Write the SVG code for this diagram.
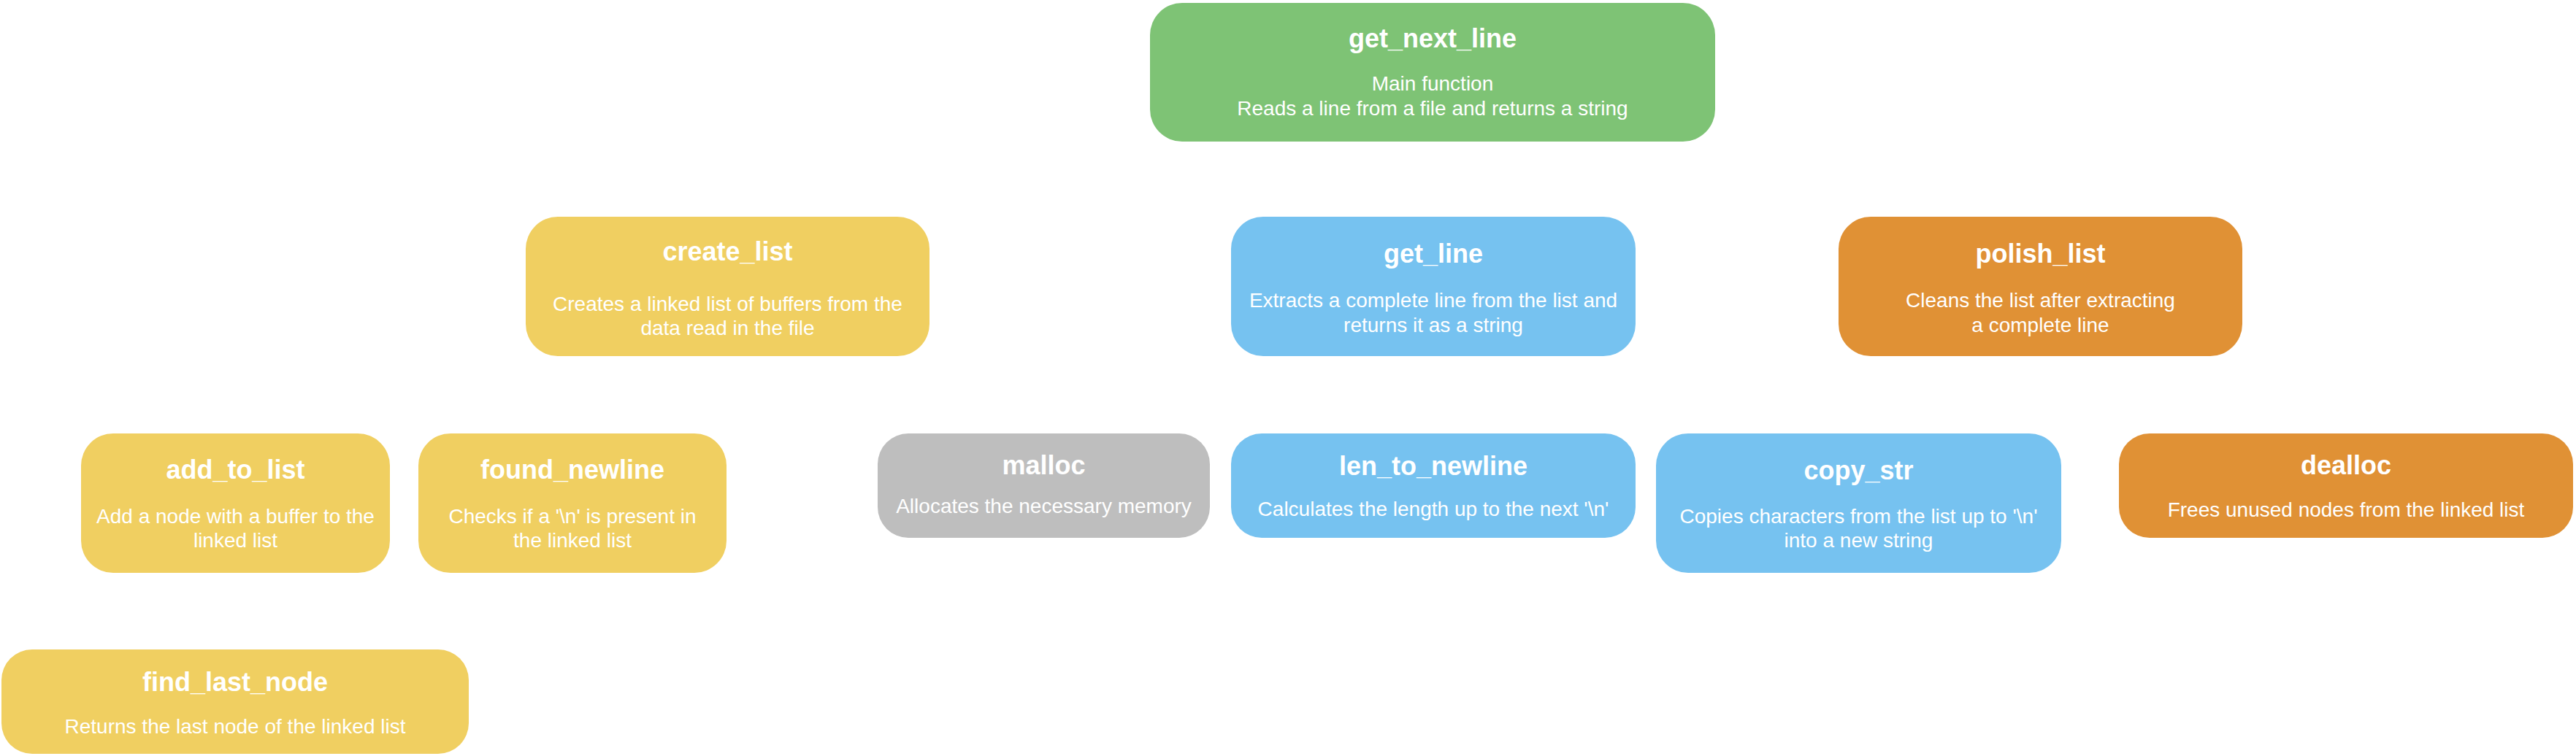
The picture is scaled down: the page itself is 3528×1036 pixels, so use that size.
<svg xmlns="http://www.w3.org/2000/svg" width="3528" height="1036" viewBox="0 0 3528 1036">
<style>
.box{stroke:none}
.green{fill:#7EC375}
.yellow{fill:#F0CF61}
.blue{fill:#76C2F0}
.orange{fill:#E09135}
.gray{fill:#BEBEBE}
text{font-family:"Liberation Sans",Arial,Helvetica,sans-serif;fill:#FFFFFF;text-anchor:middle}
.t{font-size:36px;font-weight:bold}
.d{font-size:28px}
</style>
<rect width="3528" height="1036" fill="#FFFFFF"/>
<g id="connectors"></g>
<g id="get_next_line">
<rect class="box green" x="1575" y="4" width="774" height="190" rx="44"/>
<text class="t" x="1962" y="65">get_next_line</text>
<text class="d" x="1962" y="124">Main function</text>
<text class="d" x="1962" y="158">Reads a line from a file and returns a string</text>
</g>
<g id="create_list">
<rect class="box yellow" x="720" y="297" width="553" height="191" rx="44"/>
<text class="t" x="996.5" y="357">create_list</text>
<text class="d" x="996.5" y="426">Creates a linked list of buffers from the</text>
<text class="d" x="996.5" y="459">data read in the file</text>
</g>
<g id="get_line">
<rect class="box blue" x="1686" y="297" width="554" height="191" rx="44"/>
<text class="t" x="1963" y="360">get_line</text>
<text class="d" x="1963" y="421">Extracts a complete line from the list and</text>
<text class="d" x="1963" y="455">returns it as a string</text>
</g>
<g id="polish_list">
<rect class="box orange" x="2518" y="297" width="553" height="191" rx="44"/>
<text class="t" x="2794.5" y="360">polish_list</text>
<text class="d" x="2794.5" y="421">Cleans the list after extracting</text>
<text class="d" x="2794.5" y="455">a complete line</text>
</g>
<g id="add_to_list">
<rect class="box yellow" x="111" y="594" width="423" height="191" rx="44"/>
<text class="t" x="322.5" y="656">add_to_list</text>
<text class="d" x="322.5" y="717">Add a node with a buffer to the</text>
<text class="d" x="322.5" y="750">linked list</text>
</g>
<g id="found_newline">
<rect class="box yellow" x="573" y="594" width="422" height="191" rx="44"/>
<text class="t" x="784" y="656">found_newline</text>
<text class="d" x="784" y="717">Checks if a '\n' is present in</text>
<text class="d" x="784" y="750">the linked list</text>
</g>
<g id="malloc">
<rect class="box gray" x="1202" y="594" width="455" height="143" rx="42"/>
<text class="t" x="1429.5" y="650">malloc</text>
<text class="d" x="1429.5" y="703">Allocates the necessary memory</text>
</g>
<g id="len_to_newline">
<rect class="box blue" x="1686" y="594" width="554" height="143" rx="42"/>
<text class="t" x="1963" y="651">len_to_newline</text>
<text class="d" x="1963" y="707">Calculates the length up to the next '\n'</text>
</g>
<g id="copy_str">
<rect class="box blue" x="2268" y="594" width="555" height="191" rx="44"/>
<text class="t" x="2545.5" y="657">copy_str</text>
<text class="d" x="2545.5" y="717">Copies characters from the list up to '\n'</text>
<text class="d" x="2545.5" y="750">into a new string</text>
</g>
<g id="dealloc">
<rect class="box orange" x="2902" y="594" width="622" height="143" rx="42"/>
<text class="t" x="3213" y="650">dealloc</text>
<text class="d" x="3213" y="708">Frees unused nodes from the linked list</text>
</g>
<g id="find_last_node">
<rect class="box yellow" x="2" y="890" width="640" height="143" rx="42"/>
<text class="t" x="322" y="947">find_last_node</text>
<text class="d" x="322" y="1005">Returns the last node of the linked list</text>
</g>
</svg>
